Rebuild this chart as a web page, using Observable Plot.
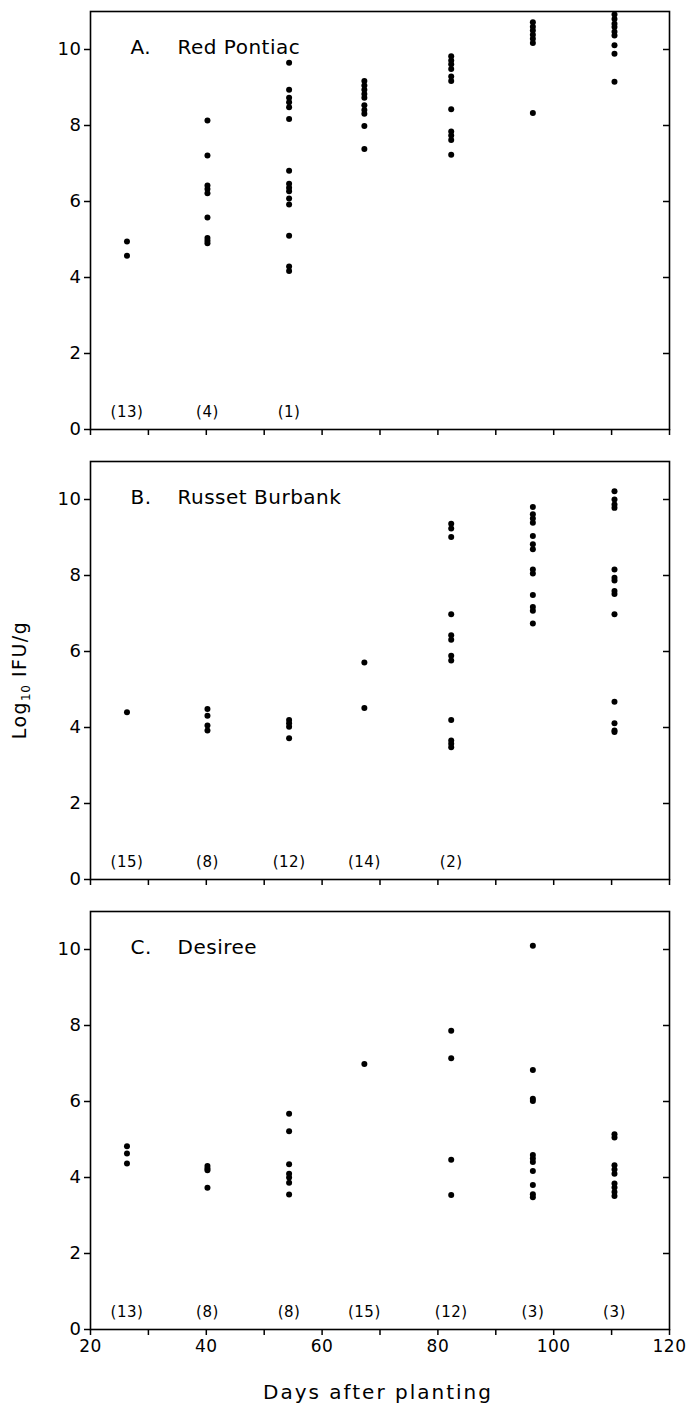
<!DOCTYPE html>
<html>
<head>
<meta charset="utf-8">
<script src="https://cdn.jsdelivr.net/npm/d3@7"></script>
<script src="https://cdn.jsdelivr.net/npm/@observablehq/plot@0.6"></script>
<style>
  html, body { margin: 0; padding: 0; background: #fff; color: #000; }
  #wrap { position: relative; width: 686px; height: 1405px; font-family: "DejaVu Sans", sans-serif; }
  #wrap svg { display: block; overflow: visible; }
  #wrap svg text { letter-spacing: 0.5px; }
  g[aria-label="text"] text.panel { letter-spacing: 2.5px; }
  #ylab { position: absolute; left: 20px; top: 680px; transform: translate(-50%, -50%) rotate(-90deg);
          white-space: nowrap; font-size: 19px; letter-spacing: 1.5px; }
  #ylab sub { font-size: 12px; vertical-align: -4px; letter-spacing: 0.5px; }
  #xlab { position: absolute; left: 378px; top: 1392px; transform: translate(-50%, -50%);
          white-space: nowrap; font-size: 20px; letter-spacing: 2px; }
</style>
</head>
<body>
<div id="wrap"></div>
<script>
// Sampling days (columns)
const days = [26.3, 40.2, 54.3, 67.3, 82.3, 96.4, 110.5];

// A. Red Pontiac — log10 IFU/g per sampling day
const redPontiac = [
  [4.95, 4.57],
  [8.13, 7.21, 6.42, 6.33, 6.22, 5.58, 5.04, 4.97, 4.90],
  [9.65, 8.94, 8.73, 8.61, 8.48, 8.17, 6.81, 6.47, 6.36, 6.27, 6.08, 5.92, 5.10, 4.29, 4.17],
  [9.17, 9.05, 8.94, 8.83, 8.73, 8.53, 8.41, 8.31, 7.99, 7.38],
  [9.82, 9.71, 9.61, 9.49, 9.29, 9.17, 8.43, 7.84, 7.74, 7.62, 7.23],
  [10.72, 10.60, 10.50, 10.39, 10.28, 10.17, 8.33],
  [10.92, 10.80, 10.68, 10.59, 10.47, 10.37, 10.11, 9.89, 9.15]
];
// B. Russet Burbank
const russetBurbank = [
  [4.40],
  [4.49, 4.31, 4.05, 3.92],
  [4.20, 4.11, 4.02, 3.72],
  [5.71, 4.51],
  [9.36, 9.24, 9.01, 6.98, 6.43, 6.31, 5.89, 5.76, 4.20, 3.66, 3.57, 3.48],
  [9.80, 9.61, 9.50, 9.39, 9.04, 8.82, 8.69, 8.16, 8.05, 7.49, 7.17, 7.07, 6.74],
  [10.22, 10.00, 9.87, 9.78, 8.16, 7.94, 7.87, 7.59, 7.51, 6.98, 4.68, 4.11, 3.92, 3.88]
];
// C. Desiree
const desiree = [
  [4.82, 4.63, 4.37],
  [4.30, 4.24, 4.19, 3.73],
  [5.68, 5.22, 4.35, 4.10, 4.00, 3.86, 3.55],
  [6.99],
  [7.86, 7.14, 4.47, 3.54],
  [10.10, 6.83, 6.07, 6.01, 4.59, 4.50, 4.41, 4.17, 3.80, 3.56, 3.48],
  [5.14, 5.05, 4.32, 4.21, 4.10, 3.84, 3.74, 3.62, 3.51]
];

// Numbers of samples below detection (shown in parentheses)
const countsA = ["(13)", "(4)", "(1)"];
const countsB = ["(15)", "(8)", "(12)", "(14)", "(2)"];
const countsC = ["(13)", "(8)", "(8)", "(15)", "(12)", "(3)", "(3)"];

const panelLetters = ["A.", "B.", "C."];
const panelNames = ["Red Pontiac", "Russet Burbank", "Desiree"];

const yTicks = [0, 2, 4, 6, 8, 10];
const yTicksRight = [2, 4, 6, 8, 10];
const xTicksMinor = [20, 30, 40, 50, 60, 70, 80, 90, 100, 110, 120];
const xTickLabels = [20, 40, 60, 80, 100, 120];

function flatten(cols) {
  const out = [];
  cols.forEach((vals, i) => vals.forEach(v => out.push({day: days[i], v})));
  return out;
}

function panel(cols, counts, idx, opts) {
  const pts = flatten(cols);
  const cnt = counts.map((c, i) => ({day: days[i], label: c, y: 0.45}));
  const marks = [
    Plot.frame({stroke: "black", strokeWidth: 1.6}),
    Plot.axisY({ticks: yTicks, tickSize: 6, tickPadding: 3, label: null, fontSize: 18, strokeWidth: 1.5}),
    Plot.axisY({anchor: "right", ticks: yTicksRight, tickSize: -7, tickFormat: () => "", label: null, strokeWidth: 1.5}),
    Plot.dot(pts, {x: "day", y: "v", r: 3, fill: "black", stroke: null}),
    Plot.text(cnt, {x: "day", y: "y", text: "label", fontSize: 15, fill: "black"}),
    Plot.text([panelLetters[idx]], {frameAnchor: "top-left", dx: 40, dy: 28, textAnchor: "start", fontSize: 20, fill: "black"}),
    Plot.text([panelNames[idx]], {frameAnchor: "top-left", dx: 87, dy: 28, textAnchor: "start", fontSize: 20, fill: "black"})
  ];
  if (opts.xLabels) {
    marks.push(Plot.axisX({ticks: xTicksMinor, tickSize: 6, tickFormat: d => (xTickLabels.includes(d) ? d : ""), tickPadding: 4, label: null, fontSize: 17, strokeWidth: 1.5}));
  } else {
    marks.push(Plot.axisX({ticks: xTicksMinor, tickSize: 6, tickFormat: () => "", label: null, strokeWidth: 1.5}));
  }
  return Plot.plot({
    width: 686,
    height: opts.height,
    marginLeft: 90,
    marginRight: 17,
    marginTop: opts.top,
    marginBottom: opts.bottom,
    style: {fontFamily: "DejaVu Sans, sans-serif", fontSize: "18px", color: "black", background: "white", overflow: "visible"},
    x: {domain: [20, 120]},
    y: {domain: [0, 11]},
    marks
  });
}

const wrap = document.getElementById("wrap");
const svgs = [
  panel(redPontiac, countsA, 0, {height: 445, top: 11, bottom: 16}),
  panel(russetBurbank, countsB, 1, {height: 450, top: 16, bottom: 16}),
  panel(desiree, countsC, 2, {height: 510, top: 16, bottom: 76, xLabels: true})
];
svgs.forEach(s => {
  wrap.appendChild(s);
  d3.select(s).selectAll('g[aria-label="text"] text').filter(function() {
    const t = this.textContent;
    return panelNames.includes(t) || panelLetters.includes(t);
  }).classed("panel", true);
});

const ylab = document.createElement("div");
ylab.id = "ylab";
ylab.innerHTML = "Log<sub>10</sub> IFU/g";
wrap.appendChild(ylab);

const xlab = document.createElement("div");
xlab.id = "xlab";
xlab.textContent = "Days after planting";
wrap.appendChild(xlab);
</script>
</body>
</html>
